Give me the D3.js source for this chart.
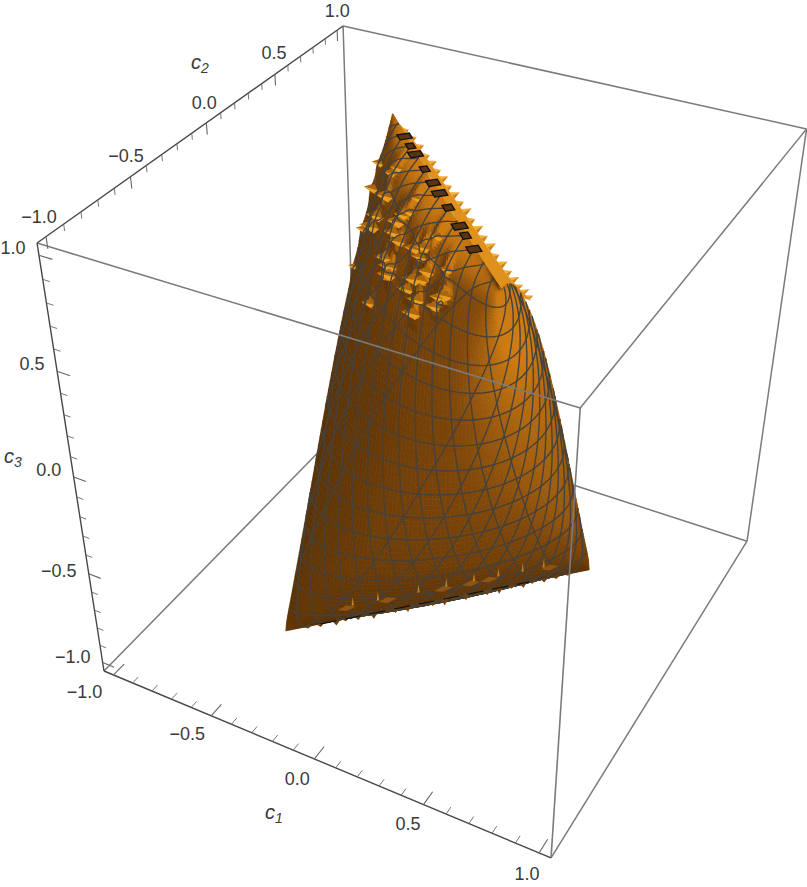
<!DOCTYPE html>
<html>
<head>
<meta charset="utf-8">
<script src="https://cdn.jsdelivr.net/npm/d3@7"></script>
<style>
  html, body { margin: 0; background: #fff; }
  text { font-family: "Liberation Sans", sans-serif; fill: #3a3a3a; }
</style>
</head>
<body>
<div id="container"></div>
<script>
// axes
var boxMin = -1.05, boxMax = 1.05
var majorTicks = [-1, -0.5, 0, 0.5, 1]
var minorTicks = d3.range(-10, 11).map(function(d) { return d / 10 })

// visible sheet of the surface: one row per c3 value
var c3Rows = [-1.03, -0.97, -0.9, -0.75, -0.5, -0.25, 0, 0.25, 0.5, 0.75, 0.9, 0.97, 1]
var c1Table = [
  [-0.490, -0.467, -0.413, -0.330, -0.225, -0.104, 0.024, 0.153, 0.272, 0.372, 0.447, 0.491, 0.501],
  [-0.485, -0.453, -0.389, -0.299, -0.188, -0.064, 0.066, 0.192, 0.306, 0.399, 0.464, 0.497, 0.496],
  [-0.477, -0.437, -0.366, -0.270, -0.156, -0.030, 0.099, 0.223, 0.332, 0.417, 0.474, 0.498, 0.487],
  [-0.463, -0.413, -0.334, -0.232, -0.113, 0.013, 0.141, 0.260, 0.360, 0.436, 0.481, 0.493, 0.470],
  [-0.442, -0.382, -0.294, -0.186, -0.065, 0.062, 0.186, 0.298, 0.388, 0.452, 0.484, 0.482, 0.446],
  [-0.425, -0.357, -0.263, -0.151, -0.029, 0.098, 0.219, 0.325, 0.407, 0.461, 0.483, 0.471, 0.425],
  [-0.411, -0.336, -0.238, -0.123, 0.001, 0.128, 0.246, 0.346, 0.422, 0.469, 0.482, 0.461, 0.408],
  [-0.401, -0.321, -0.219, -0.101, 0.025, 0.151, 0.267, 0.364, 0.435, 0.475, 0.482, 0.454, 0.395],
  [-0.397, -0.314, -0.209, -0.089, 0.039, 0.166, 0.281, 0.376, 0.444, 0.481, 0.484, 0.452, 0.389],
  [-0.408, -0.326, -0.221, -0.100, 0.028, 0.157, 0.275, 0.373, 0.445, 0.485, 0.491, 0.462, 0.401],
  [-0.435, -0.363, -0.266, -0.149, -0.022, 0.109, 0.233, 0.340, 0.424, 0.478, 0.498, 0.483, 0.434],
  [-0.466, -0.411, -0.327, -0.221, -0.099, 0.031, 0.160, 0.279, 0.378, 0.451, 0.492, 0.499, 0.472],
  [-0.490, -0.467, -0.413, -0.330, -0.225, -0.104, 0.024, 0.153, 0.272, 0.372, 0.447, 0.491, 0.501]
]
var c2Table = [
  [-0.490, -0.467, -0.413, -0.330, -0.225, -0.104, 0.024, 0.153, 0.272, 0.372, 0.447, 0.491, 0.501],
  [-0.485, -0.484, -0.449, -0.384, -0.292, -0.180, -0.056, 0.074, 0.200, 0.313, 0.404, 0.467, 0.498],
  [-0.470, -0.486, -0.469, -0.419, -0.341, -0.239, -0.120, 0.007, 0.136, 0.256, 0.359, 0.436, 0.484],
  [-0.434, -0.473, -0.480, -0.453, -0.394, -0.309, -0.201, -0.080, 0.048, 0.174, 0.289, 0.383, 0.451],
  [-0.371, -0.436, -0.470, -0.472, -0.440, -0.378, -0.289, -0.180, -0.059, 0.069, 0.193, 0.303, 0.392],
  [-0.303, -0.387, -0.444, -0.470, -0.463, -0.423, -0.353, -0.259, -0.146, -0.023, 0.104, 0.224, 0.329],
  [-0.228, -0.328, -0.405, -0.454, -0.470, -0.453, -0.404, -0.327, -0.227, -0.110, 0.014, 0.141, 0.257],
  [-0.140, -0.254, -0.349, -0.420, -0.462, -0.470, -0.446, -0.389, -0.305, -0.200, -0.080, 0.046, 0.172],
  [-0.028, -0.152, -0.265, -0.360, -0.429, -0.468, -0.473, -0.445, -0.385, -0.298, -0.190, -0.068, 0.060],
  [0.140, 0.010, -0.117, -0.236, -0.339, -0.417, -0.466, -0.481, -0.463, -0.412, -0.331, -0.227, -0.107],
  [0.305, 0.191, 0.063, -0.067, -0.192, -0.302, -0.392, -0.454, -0.484, -0.480, -0.442, -0.373, -0.278],
  [0.426, 0.342, 0.234, 0.110, -0.021, -0.148, -0.264, -0.363, -0.436, -0.479, -0.488, -0.463, -0.407],
  [0.501, 0.478, 0.423, 0.338, 0.230, 0.107, -0.023, -0.149, -0.265, -0.363, -0.436, -0.479, -0.489]
]

// mesh levels
var c1Mesh = d3.range(-0.432, 0.5, 0.072)
var c2Mesh = d3.range(-0.432, 0.5, 0.072)
var c3Mesh = d3.range(-0.91, 1, 0.14)

// numerical noise on the upper part of the surface
var spikeC1 = [-0.28, -0.30, -0.31, -0.15, -0.15, -0.13, -0.10, -0.10, -0.29, -0.31, -0.16, -0.10, -0.09, -0.10, 0, 0.06, 0.10, 0.06, 0.12, 0.22, 0.05, 0.10, 0.21, 0.03, 0.10, 0.24, -0.18, 0.09, 0.20, -0.44, -0.42, -0.41, -0.40]
var spikeC3 = [0.88, 0.81, 0.77, 0.89, 0.85, 0.92, 0.94, 0.97, 0.96, 0.93, 0.78, 0.78, 0.85, 0.75, 0.89, 0.91, 0.96, 0.88, 0.87, 0.92, 0.81, 0.83, 0.84, 0.76, 0.78, 0.86, 0.60, 0.72, 0.79, 0.89, 0.82, 0.69, 0.57]
var spikeSize = [1, 1, 1.1, 1, 0.9, 0.8, 0.7, 0.6, 0.7, 0.7, 0.9, 1, 0.9, 1, 0.9, 0.8, 0.7, 0.8, 0.9, 0.7, 1, 0.8, 0.9, 0.9, 0.9, 0.8, 0.7, 1, 0.8, 0.7, 0.8, 0.6, 0.5]

// back rim at the top, with its teeth
var ridgeC1 = [-0.49, -0.3, -0.1, 0.1, 0.3, 0.5, 0.62]
var ridgeC2 = [0.49, 0.34, 0.15, -0.04, -0.23, -0.42, -0.5]
var toothT = [0.1, 0.15, 0.2, 0.25, 0.29, 0.33, 0.37, 0.41, 0.45, 0.49, 0.53, 0.57, 0.61, 0.65, 0.69, 0.73, 0.77, 0.81, 0.85, 0.89, 0.93, 0.97]
var toothH = [0.01, 0.018, 0.024, 0.016, 0.03, 0.02, 0.034, 0.02, 0.036, 0.024, 0.04, 0.022, 0.038, 0.026, 0.04, 0.02, 0.034, 0.024, 0.034, 0.02, 0.03, 0.018]

// dark patches along the top edge
var patchC1 = [-0.35, -0.29, -0.24, -0.15, -0.07, -0.01, 0.07, 0.17, 0.22, 0.29]
var patchSize = [1, 0.6, 1, 0.6, 0.9, 1, 0.7, 1, 0.6, 0.9]

// noise along the bottom edge
var rimC1 = [-0.42, -0.38, -0.33, -0.3, -0.26, -0.21, -0.17, -0.14, -0.1, -0.06, -0.02, 0.02, 0.05, 0.09, 0.13, 0.16, 0.2, 0.24, 0.28, 0.31, 0.35, 0.39, 0.43]
var rimH = [0.012, 0.018, 0.028, 0.015, 0.022, 0.034, 0.015, 0.025, 0.034, 0.018, 0.03, 0.04, 0.02, 0.034, 0.02, 0.03, 0.036, 0.02, 0.03, 0.016, 0.022, 0.015, 0.01]
var fleckC1 = [-0.27, -0.19, -0.06, 0.03, 0.12, 0.2, 0.28, 0.35]
var blobC1 = [-0.29, -0.16, 0.02, 0.11, 0.17, 0.37]

var width = 807, height = 887

// projective camera, fitted to the corners of the box
var camX = [397.2, 300.8, -55.5]
var camY = [166.1, -307, -354.8]
var camW = [-0.1115, 0.197, -0.171]
var unit = d3.scaleLinear().domain([boxMin, boxMax]).range([0, 1])
var originX = 104, originY = 671

function project(p) {
  var u = p.map(unit)
  var w = 1 + d3.sum(u, function(d, i) { return d * camW[i] })
  return [
    originX + d3.sum(u, function(d, i) { return d * camX[i] }) / w,
    originY + d3.sum(u, function(d, i) { return d * camY[i] }) / w,
    w
  ]
}

var svg = d3.select("#container").append("svg")
    .attr("width", width)
    .attr("height", height)

var line = d3.line()

function edge(a, b, colour, w) {
  return svg.append("path")
    .attr("d", line([project(a), project(b)]))
    .attr("stroke", colour)
    .attr("stroke-width", w)
    .attr("fill", "none")
}

function poly(parent, corners, fill) {
  return parent.append("path")
    .attr("d", line(corners.map(project)) + "Z")
    .attr("fill", fill)
}

var lo = boxMin, hi = boxMax, boxGrey = "#7b7b7b"

// back of the box
edge([lo, hi, hi], [hi, hi, hi], boxGrey, 1.5)
edge([hi, hi, hi], [hi, hi, lo], boxGrey, 1.5)
edge([lo, hi, hi], [lo, hi, lo], boxGrey, 1.5)
edge([lo, lo, lo], [lo, hi, lo], boxGrey, 1.5)
edge([lo, hi, lo], [hi, hi, lo], boxGrey, 1.5)
edge([hi, lo, lo], [hi, hi, lo], boxGrey, 1.5)
edge([hi, lo, hi], [hi, hi, hi], boxGrey, 1.5)

// rim behind the top edge
var ridgeX = d3.interpolateBasis(ridgeC1), ridgeY = d3.interpolateBasis(ridgeC2)
function ridgeAt(t) { return [ridgeX(t), ridgeY(t), 1] }

var rimBack = svg.append("g")
toothT.forEach(function(t, i) {
  var m = ridgeAt(t), a = ridgeAt(t - 0.016), b = ridgeAt(t + 0.016)
  var tip = [m[0] + 0.012, m[1] + toothH[i], m[2]]
  poly(rimBack, [a, tip, m], "#f5b02c")
  poly(rimBack, [m, tip, b], "#cf8216")
})
var lastTop = c2Table[c2Table.length - 1], lastC1 = c1Table[c1Table.length - 1]
poly(rimBack, d3.range(0, 1.001, 0.05).map(ridgeAt).concat(
  lastC1.map(function(d, j) { return [d, lastTop[j], 1] }).reverse()
), "#e0901c")

// surface on a fine grid
var N = 90
function rowBasis(table) {
  return table[0].map(function(_, j) {
    return d3.interpolateBasis(table.map(function(r) { return r[j] }))
  })
}
var basisC1 = rowBasis(c1Table), basisC2 = rowBasis(c2Table), basisC3 = d3.interpolateBasis(c3Rows)

var grid = d3.range(N + 1).map(function(r) {
  var tr = r / N
  var acrossC1 = d3.interpolateBasis(basisC1.map(function(f) { return f(tr) }))
  var acrossC2 = d3.interpolateBasis(basisC2.map(function(f) { return f(tr) }))
  return d3.range(N + 1).map(function(c) {
    return [acrossC1(c / N), acrossC2(c / N), basisC3(tr)]
  })
})

// where each spike sits on the grid, found before the bumps go in
var spikeBase = spikeC1.map(function(s, i) {
  var best = null, bestD = Infinity
  grid.forEach(function(row) {
    row.forEach(function(p) {
      var d = Math.hypot(p[0] - s, p[2] - spikeC3[i])
      if (d < bestD) { bestD = d; best = p }
    })
  })
  return best.slice()
})

grid.forEach(function(row) {
  row.forEach(function(p) {
    spikeBase.forEach(function(b, i) {
      var x = (p[0] - b[0]) / 0.022, z = (p[2] - b[2]) / 0.03
      p[1] -= 0.028 * spikeSize[i] * Math.exp(-x * x - z * z)
    })
  })
})

var light = [0.7, -0.25, 0.65]
var colour = d3.scaleLinear().domain([-0.7, 0.1, 0.42, 0.8])
    .range(["#4f2a02", "#643706", "#7f470a", "#cc7a10"])
    .clamp(true)
// the surface gets lighter going up
var rowLift = d3.scaleLinear().domain([-1.03, -0.6, 0.3, 1]).range([-0.45, -0.18, 0, 0.3])

function normal(a, b, c) {
  var e = [b[0] - a[0], b[1] - a[1], b[2] - a[2]], f = [c[0] - a[0], c[1] - a[1], c[2] - a[2]]
  var n = [e[1] * f[2] - e[2] * f[1], e[2] * f[0] - e[0] * f[2], e[0] * f[1] - e[1] * f[0]]
  var l = Math.hypot(n[0], n[1], n[2]) || 1
  if (n[0] * 0.41 - n[1] * 0.73 + n[2] * 0.63 < 0) l = -l
  return n.map(function(d) { return d / l })
}

var quads = []
for (var r = 0; r < N; r++) {
  for (var c = 0; c < N; c++) {
    var corners = [grid[r][c], grid[r][c + 1], grid[r + 1][c + 1], grid[r + 1][c]]
    var pts = corners.map(project)
    var n = normal(corners[0], corners[1], corners[3])
    var lit = d3.sum(n, function(d, i) { return d * light[i] })
    quads.push({
      pts: pts,
      depth: d3.mean(pts, function(d) { return d[2] }),
      fill: colour(lit + rowLift(corners[0][2]))
    })
  }
}
quads.sort(function(a, b) { return b.depth - a.depth })

svg.append("g").selectAll("path")
  .data(quads)
  .join("path")
    .attr("d", function(d) { return line(d.pts) + "Z" })
    .attr("fill", function(d) { return d.fill })
    .attr("stroke", function(d) { return d.fill })
    .attr("stroke-width", 0.7)

// spikes
var spikes = svg.append("g")
spikeBase.forEach(function(p, i) {
  var s = spikeSize[i]
  var tip = [p[0] - 0.035 * s, p[1] - 0.03 * s, p[2] + 0.014 * s]
  var a = [p[0] + 0.006 * s, p[1], p[2] + 0.028 * s]
  var b = [p[0] + 0.006 * s, p[1], p[2] - 0.028 * s]
  var m = [p[0] + 0.028 * s, p[1], p[2] - 0.004 * s]
  poly(spikes, [tip, a, m], "#a9660e")
  poly(spikes, [tip, m, b], "#eb9f22")
})

// contour lines of c1, c2 and c3 over the surface
function meshPath(k, levels) {
  var out = ""
  function cut(a, b, level) {
    var t = (level - a[k]) / (b[k] - a[k])
    return project([a[0] + (b[0] - a[0]) * t, a[1] + (b[1] - a[1]) * t, a[2] + (b[2] - a[2]) * t])
  }
  function triangle(a, b, c) {
    var vmin = Math.min(a[k], b[k], c[k]), vmax = Math.max(a[k], b[k], c[k])
    levels.forEach(function(level) {
      if (level < vmin || level >= vmax) return
      var hits = []
      if ((a[k] <= level) !== (b[k] <= level)) hits.push(cut(a, b, level))
      if ((b[k] <= level) !== (c[k] <= level)) hits.push(cut(b, c, level))
      if ((c[k] <= level) !== (a[k] <= level)) hits.push(cut(c, a, level))
      if (hits.length === 2) out += "M" + hits[0][0].toFixed(1) + "," + hits[0][1].toFixed(1) + "L" + hits[1][0].toFixed(1) + "," + hits[1][1].toFixed(1)
    })
  }
  for (var r = 0; r < N; r++) {
    for (var c = 0; c < N; c++) {
      triangle(grid[r][c], grid[r][c + 1], grid[r + 1][c + 1])
      triangle(grid[r][c], grid[r + 1][c + 1], grid[r + 1][c])
    }
  }
  return out
}

[[0, c1Mesh], [1, c2Mesh], [2, c3Mesh]].forEach(function(m) {
  svg.append("path")
    .attr("d", meshPath(m[0], m[1]))
    .attr("fill", "none")
    .attr("stroke", "#45413b")
    .attr("stroke-width", 1.4)
})

// dark patches along the top edge
var patches = svg.append("g")
patchC1.forEach(function(d, i) {
  var a = 0.018 * patchSize[i], e = 0.016
  poly(patches, [
    [d - a - e, -d - a + e, 1], [d + a - e, -d + a + e, 1],
    [d + a + e, -d + a - e, 1], [d - a + e, -d - a - e, 1]
  ], "#573412")
    .attr("stroke", "#111")
    .attr("stroke-width", 1.3)
})

// bottom edge noise
var rimLow = c3Rows[0], rim = svg.append("g")
blobC1.forEach(function(s) {
  var z = rimLow + 0.07
  poly(rim, [[s - 0.03, s - 0.045, z], [s, s - 0.015, z + 0.018], [s + 0.03, s + 0.015, z], [s, s - 0.015, z - 0.016]], "#8f5410")
})
fleckC1.forEach(function(s) {
  var z = rimLow + 0.08
  poly(rim, [[s - 0.004, s - 0.02, z], [s, s - 0.016, z + 0.05], [s + 0.004, s - 0.012, z]], "#b9802c")
})
rimC1.forEach(function(s, i) {
  poly(rim, [[s - 0.012, s - 0.012, rimLow], [s, s, rimLow - rimH[i]], [s + 0.012, s + 0.012, rimLow]], "#6e4210")
})
edge([-0.38, -0.38, rimLow], [0.3, 0.3, rimLow], "#111", 1.1)
  .attr("stroke-dasharray", "16 9")

// front of the box
edge([lo, lo, hi], [hi, lo, hi], boxGrey, 1.6)
edge([hi, lo, hi], [hi, lo, lo], boxGrey, 1.6)

// axes
var axisDark = "#474747"
edge([lo, lo, lo], [hi, lo, lo], axisDark, 1.4)
edge([lo, lo, lo], [lo, lo, hi], axisDark, 1.4)
edge([lo, lo, hi], [lo, hi, hi], axisDark, 1.4)

function axisTicks(point, tipMajor, tipMinor) {
  minorTicks.forEach(function(t) {
    var major = majorTicks.indexOf(t) >= 0
    var tip = major ? tipMajor : tipMinor
    var a = point(t)
    edge(a, [a[0] + tip[0], a[1] + tip[1], a[2] + tip[2]], "#666", major ? 1.1 : 0.9)
  })
}

function c1Point(t) { return [t, lo, lo] }
function c2Point(t) { return [lo, t, hi] }
function c3Point(t) { return [lo, lo, t] }

axisTicks(c1Point, [0, 0.075, 0], [0, 0.04, 0])
axisTicks(c2Point, [0, 0, -0.05], [0, 0, -0.028])
axisTicks(c3Point, [0.06, 0, 0], [0.032, 0, 0])

var tickFormat = d3.format(".1f")

function axisLabels(point, dx, dy) {
  svg.append("g").selectAll("text")
    .data(majorTicks)
    .join("text")
      .attr("x", function(d, i) { return project(point(d))[0] + dx[i] })
      .attr("y", function(d, i) { return project(point(d))[1] + dy[i] + 6.5 })
      .attr("font-size", 18)
      .attr("text-anchor", "middle")
      .text(function(d) { return tickFormat(d).replace("-", "\u2212") })
}

axisLabels(c1Point, [-29, -24, -17, -15.5, -12], [17, 18, 20, 19.4, 21])
axisLabels(c2Point, [-7, -4.5, -2, -1, 0], [-20, -21, -20, -22, -20])
axisLabels(c3Point, [-30, -30, -25, -25, -26], [-6.5, -3, -8, -8, -8])

function axisTitle(x, y, sub) {
  var t = svg.append("text")
      .attr("x", x)
      .attr("y", y)
      .attr("font-size", 20)
      .attr("font-style", "italic")
      .text("c")
  t.append("tspan")
      .attr("dy", 4)
      .attr("font-size", 14)
      .text(sub)
}

axisTitle(265, 819, "1")
axisTitle(191, 69, "2")
axisTitle(4, 463, "3")
</script>
</body>
</html>
